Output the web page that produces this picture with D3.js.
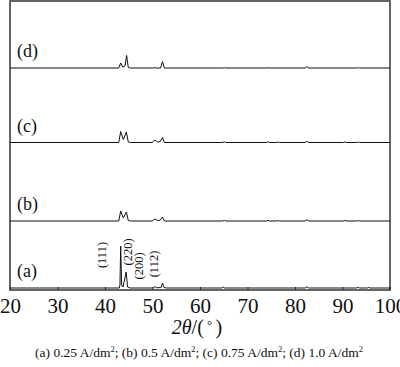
<!DOCTYPE html>
<html>
<head>
<meta charset="utf-8">
<script src="https://cdn.jsdelivr.net/npm/d3@7"></script>
<style>
  body { margin: 0; background: #fff; }
  svg { display: block; font-family: "Liberation Serif", "Times New Roman", serif; }
</style>
</head>
<body>
<div id="chart"></div>
<script>
// 2theta / intensity pairs (intensity in arbitrary units)
const traceA = [
  [20, 0], [43.0, 0], [43.15, 3], [43.3, 42], [43.5, 3], [43.8, 1], [44.45, 16], [44.75, 1], [45.3, 0],
  [50.2, 0], [50.5, 1.5], [50.8, 0.3], [51.8, 0.4], [52.1, 5], [52.45, 0.4], [53, 0],
  [64.6, 0], [64.9, 1], [65.2, 0], [82.2, 0], [82.5, 1.5], [82.8, 0],
  [93.0, 0], [93.3, 0.8], [93.6, 0], [95.2, 0], [95.5, 0.6], [95.8, 0], [100, 0]
];
const traceB = [
  [20, 0], [42.9, 0], [43.3, 10], [43.85, 3], [44.5, 9], [44.9, 0.5], [45.3, 0],
  [49.9, 0], [50.5, 2], [51.1, 0.5], [51.6, 0.8], [52.1, 4], [52.5, 0], [64.8, 0], [65.1, 0.7], [65.4, 0],
  [74.0, 0], [74.3, 0.7], [74.6, 0], [76.1, 0], [76.4, 0.5], [76.7, 0],
  [82.2, 0], [82.5, 1.5], [82.8, 0], [90.2, 0], [90.5, 0.5], [90.8, 0],
  [93.0, 0], [93.3, 0.5], [93.6, 0], [100, 0]
];
const traceC = [
  [20, 0], [42.9, 0], [43.3, 11], [43.85, 3], [44.5, 10.5], [44.9, 0.5], [45.3, 0],
  [49.9, 0], [50.5, 2.5], [51.1, 0.5], [51.6, 0.8], [52.1, 5], [52.5, 0], [64.8, 0], [65.1, 0.7], [65.4, 0],
  [74.0, 0], [74.3, 0.8], [74.6, 0], [76.1, 0], [76.4, 0.5], [76.7, 0],
  [82.2, 0], [82.5, 1.5], [82.8, 0], [90.2, 0], [90.5, 0.6], [90.8, 0],
  [93.0, 0], [93.3, 0.5], [93.6, 0], [100, 0]
];
const traceD = [
  [20, 0], [42.9, 0], [43.3, 5], [43.75, 1], [44.2, 2], [44.55, 12.5], [44.9, 0.5], [45.3, 0],
  [50.2, 0], [50.5, 0.4], [50.8, 0], [51.7, 0], [52.1, 6.5], [52.5, 0],
  [65.0, 0], [65.2, 0.3], [65.4, 0], [74.1, 0], [74.3, 0.3], [74.5, 0],
  [82.2, 0], [82.5, 1.5], [82.8, 0], [93.2, 0], [93.4, 0.5], [93.6, 0], [100, 0]
];
const traces = [traceA, traceB, traceC, traceD];
const traceNames = ['(a)', '(b)', '(c)', '(d)'];
const traceOffsets = [0, 67, 145.5, 220];

const xTicks = [20, 30, 40, 50, 60, 70, 80, 90, 100];
const peakLabels = ['(111)', '(220)', '(200)', '(112)'];
const peakLabelX = [39.3, 44.9, 47.1, 50.4];
const peakLabelY = [33, 36, 22, 24];

const width = 400;
const height = 367;
const margin = { top: 1, right: 10, bottom: 77, left: 10 };

const svg = d3.select('#chart')
  .append('svg')
  .attr('width', width)
  .attr('height', height);

const xScale = d3.scaleLinear()
  .domain([20, 100])
  .range([margin.left, width - margin.right]);

const yScale = d3.scaleLinear()
  .domain([-2, 287])
  .range([height - margin.bottom, margin.top]);

// frame
svg.append('rect')
  .attr('x', margin.left)
  .attr('y', margin.top)
  .attr('width', width - margin.left - margin.right)
  .attr('height', height - margin.top - margin.bottom)
  .attr('fill', 'none')
  .attr('stroke', '#333')
  .attr('stroke-width', 1.5);

// bottom axis, ticks pointing inward
const xAxis = svg.append('g')
  .attr('transform', `translate(0, ${height - margin.bottom})`)
  .call(d3.axisBottom(xScale).tickValues(xTicks).tickSize(-3).tickPadding(8));

xAxis.attr('font-family', null);
xAxis.select('.domain').remove();
xAxis.selectAll('line').attr('stroke', '#333');
xAxis.selectAll('text')
  .attr('font-size', 21)
  .attr('fill', '#111');

// traces
const line = d3.line()
  .x((d) => xScale(d[0]))
  .y((d) => d[1]);

traces.forEach((trace, i) => {
  svg.append('path')
    .datum(trace.map((d) => [d[0], yScale(d[1] + traceOffsets[i])]))
    .attr('d', line)
    .attr('fill', 'none')
    .attr('stroke', '#111')
    .attr('stroke-width', 1);

  svg.append('text')
    .attr('x', 17)
    .attr('y', yScale(traceOffsets[i]) - 11)
    .attr('font-size', 18)
    .attr('fill', '#111')
    .text(traceNames[i]);
});

// peak labels (rotated)
peakLabels.forEach((label, i) => {
  svg.append('text')
    .attr('transform', `translate(${xScale(peakLabelX[i])}, ${yScale(peakLabelY[i])}) rotate(-90)`)
    .attr('text-anchor', 'middle')
    .attr('dominant-baseline', 'central')
    .attr('font-size', 12.5)
    .attr('fill', '#111')
    .text(label);
});

// axis title
const title = svg.append('text')
  .attr('x', 197)
  .attr('y', 334)
  .attr('text-anchor', 'middle')
  .attr('font-size', 20)
  .attr('fill', '#111');
title.append('tspan').attr('font-style', 'italic').text('2θ');
title.append('tspan').text('/(');
title.append('tspan').attr('font-size', 13).attr('dy', -5).text(' ° ');
title.append('tspan').attr('dy', 5).text(')');

// caption
const captionParts = ['(a) 0.25 A/dm', '; (b) 0.5 A/dm', '; (c) 0.75 A/dm', '; (d) 1.0 A/dm'];
const caption = svg.append('text')
  .attr('x', 199)
  .attr('y', 357)
  .attr('text-anchor', 'middle')
  .attr('font-size', 13.5)
  .attr('fill', '#111');
captionParts.forEach((part, i) => {
  caption.append('tspan').attr('dy', i === 0 ? 0 : 5).text(part);
  caption.append('tspan').attr('font-size', 8.5).attr('dy', -5).text('2');
});
</script>
</body>
</html>
